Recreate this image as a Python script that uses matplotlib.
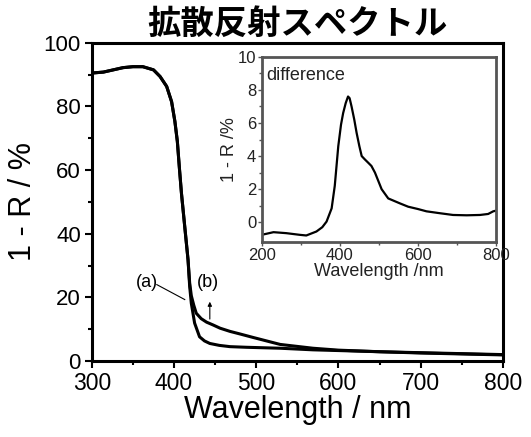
import numpy as np
import matplotlib
matplotlib.use("Agg")
import matplotlib.pyplot as plt

plt.rcParams['font.family'] = ['Liberation Sans', 'DejaVu Sans']

# main spectra, 1 - R in %
wl_a = [300, 314, 326, 338, 350, 362, 375, 383, 391, 397, 401, 404, 406.5, 409, 413, 417, 419, 421,
        425, 431, 437, 443.5, 455, 468, 488, 529, 569, 650, 700, 750, 800]
r_a = [90.5, 90.8, 91.5, 92.2, 92.5, 92.5, 91.5, 89.4, 86.3, 81.5, 75.3, 69.0, 60.6, 52.7, 42.2, 31.8, 23.4, 18.1,
       11.9, 7.6, 6.3, 5.5, 4.9, 4.5, 4.3, 4.0, 3.5, 2.9, 2.6, 2.3, 2.0]

wl_b = [300, 314, 326, 338, 350, 362, 375, 383, 391, 397, 401, 404, 406.5, 409, 413, 417, 419, 421,
        424, 427, 433, 439.5, 447.6, 456, 468, 480, 496, 508, 529, 569, 600, 650, 700, 750, 800]
r_b = [90.5, 90.8, 91.5, 92.2, 92.5, 92.5, 91.5, 89.4, 86.3, 81.5, 75.3, 69.0, 60.6, 52.7, 42.2, 31.8, 24.5, 20.5,
       17.5, 15.0, 13.3, 12.2, 11.3, 10.3, 9.3, 8.5, 7.4, 6.6, 5.2, 4.0, 3.4, 2.9, 2.5, 2.2, 1.9]

# difference spectrum (b) - (a)
wl_d = [200, 230, 263, 297, 314, 340, 355, 366, 379, 387, 396, 403, 408.5, 415, 421, 425, 430, 437, 443, 450,
        456, 464, 472.6, 481, 490, 507, 524, 554, 575, 600, 622, 655, 690, 725, 759, 780, 793, 800]
r_d = [-0.76, -0.6, -0.66, -0.76, -0.8, -0.56, -0.3, 0.04, 0.84, 2.2, 4.6, 5.9, 6.6, 7.2, 7.6, 7.5, 7.0, 6.2, 5.4, 4.6,
       4.0, 3.8, 3.6, 3.4, 3.0, 2.0, 1.44, 1.14, 0.94, 0.8, 0.66, 0.55, 0.44, 0.42, 0.44, 0.5, 0.66, 0.7]

fig = plt.figure(figsize=(5.31, 4.37), dpi=100)
ax = fig.add_axes([0.173, 0.174, 0.774, 0.728])
ax.plot(wl_a, r_a, color='black', lw=2.2)
ax.plot(wl_b, r_b, color='black', lw=2.2)
ax.set_xlim(300, 800)
ax.set_ylim(0, 100)
ax.set_xticks(range(300, 801, 100))
ax.set_xticks(range(350, 800, 100), minor=True)
ax.set_yticks(range(0, 101, 20))
ax.set_yticks(range(10, 100, 20), minor=True)
ax.tick_params(which='both', direction='out', width=1.5, colors='black')
ax.tick_params(axis='x', labelsize=16.5, pad=3)
ax.tick_params(axis='y', labelsize=16, pad=3)
ax.tick_params(which='major', length=5)
ax.tick_params(which='minor', length=3)
for s in ax.spines.values():
    s.set_linewidth(2.2)
ax.set_xlabel('Wavelength / nm', fontsize=22, labelpad=0)
ax.set_ylabel('1 - R / %', fontsize=22, labelpad=4)

# curve labels
ax.text(367, 24.8, '(a)', fontsize=13, ha='center', va='center')
ax.plot([379, 413], [24.0, 19.3], color='black', lw=0.8)
ax.text(441, 24.8, '(b)', fontsize=13, ha='center', va='center')
ax.annotate('', xy=(443.5, 19.5), xytext=(443.5, 12.3),
            arrowprops=dict(arrowstyle='-|>', color='black', lw=0.8, mutation_scale=6))

fig.text(0.56, 0.945, '拡散反射スペクトル', fontsize=24, fontweight='bold',
         family=['Noto Sans CJK JP', 'DejaVu Sans'], ha='center', va='center')

# inset with the difference spectrum
ins = fig.add_axes([0.493, 0.446, 0.441, 0.424])
ins.plot(wl_d, r_d, color='black', lw=1.6)
ins.set_xlim(200, 800)
ins.set_ylim(-1.2, 10)
ins.set_xticks([200, 400, 600, 800])
ins.set_xticks([300, 500, 700], minor=True)
ins.set_yticks(range(0, 11, 2))
ins.set_yticks(range(1, 10, 2), minor=True)
gray = '#555555'
for s in ins.spines.values():
    s.set_linewidth(2.0)
    s.set_color(gray)
ins.tick_params(which='both', direction='out', color=gray, width=1.0, labelsize=12, labelcolor='#222222', pad=1)
ins.tick_params(which='major', length=3)
ins.tick_params(which='minor', length=2)
ins.set_xlabel('Wavelength /nm', fontsize=13, color='#222222', labelpad=0)
ins.set_ylabel('1 - R /%', fontsize=13, color='#222222', labelpad=0)
ins.text(0.02, 0.9, 'difference', transform=ins.transAxes, fontsize=13, color='#222222', va='center')

fig.savefig('out.png', dpi=100)
